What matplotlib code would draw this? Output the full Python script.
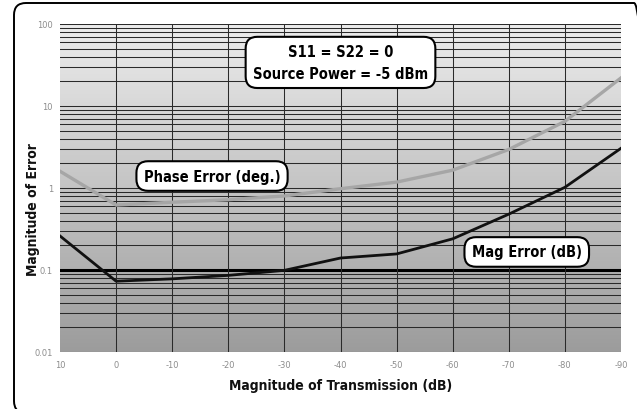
import numpy as np
import matplotlib
matplotlib.use('Agg')
import matplotlib.pyplot as plt
from matplotlib.patches import FancyBboxPatch
from matplotlib.transforms import IdentityTransform

# transmission magnitude (dB) and the two error curves
trans_db = [10, 0, -10, -20, -30, -40, -50, -60, -70, -80, -90]
phase_err = [1.6, 0.62, 0.67, 0.72, 0.8, 0.98, 1.18, 1.65, 2.95, 6.5, 22]
mag_err = [0.26, 0.073, 0.078, 0.086, 0.099, 0.14, 0.157, 0.24, 0.48, 1.02, 3.05]
x_ticks = [10, 0, -10, -20, -30, -40, -50, -60, -70, -80, -90]
y_ticks = [0.01, 0.1, 1, 10, 100]
y_ticklabels = ['0.01', '0.1', '1', '10', '100']

label_font = dict(family='DejaVu Sans', fontweight='bold', fontstretch='condensed')

fig = plt.figure(figsize=(6.37, 4.10), dpi=100)
ax = fig.add_axes([60/637, 57/410, 561/637, 328/410])

ax.set_yscale('log')
ax.set_xlim(10, -90)
ax.set_ylim(0.01, 100)

# gray gradient behind the grid, light at top, dark at bottom
grad = np.linspace(0, 1, 256).reshape(-1, 1)
ax.imshow(grad, extent=[0, 1, 0, 1], transform=ax.transAxes, aspect='auto',
          cmap=matplotlib.colors.LinearSegmentedColormap.from_list('bg', ['#9c9c9c', '#ececec']),
          origin='lower', zorder=0)

# horizontal grid: every 1..9 step in each decade
for dec in [0.01, 0.1, 1, 10]:
    for k in range(1, 10):
        v = dec * k
        if v == 0.1:
            continue
        ax.axhline(v, color='#2a2a2a', lw=0.75, zorder=1)
ax.axhline(100, color='#2a2a2a', lw=0.75, zorder=1)
ax.axhline(0.1, color='#000000', lw=2.2, zorder=1)
for xv in x_ticks[1:-1]:
    ax.axvline(xv, color='#2a2a2a', lw=0.75, zorder=1)

ax.plot(trans_db, phase_err, color='#a6a6a6', lw=2.4, zorder=3)
ax.plot(trans_db, mag_err, color='#111111', lw=2.0, zorder=3)

ax.set_xticks(x_ticks)
ax.set_xticklabels([str(v) for v in x_ticks])
ax.set_yticks(y_ticks)
ax.set_yticklabels(y_ticklabels)
ax.yaxis.set_minor_locator(matplotlib.ticker.NullLocator())
ax.tick_params(axis='both', length=0, labelsize=6, labelcolor='#8c8c8c')
ax.tick_params(axis='x', pad=6)
ax.tick_params(axis='y', pad=5)
for s in ax.spines.values():
    s.set_visible(False)

fig.text(341/637, 1 - 386/410, 'Magnitude of Transmission (dB)', ha='center', va='center',
         fontsize=10, color='#111111', **label_font)
fig.text(33/637, 1 - 210/410, 'Magnitude of Error', ha='center', va='center', rotation=90,
         fontsize=10, color='#111111', **label_font)

box = dict(boxstyle='round,pad=0.5,rounding_size=0.8', fc='white', ec='black', lw=1.5)
ax.text(-40, 34, 'S11 = S22 = 0\nSource Power = -5 dBm', ha='center', va='center',
        fontsize=10.5, linespacing=1.55, bbox=box, zorder=5, **label_font)
ax.text(-17.1, 1.4, 'Phase Error (deg.)', ha='center', va='center',
        fontsize=10.5, bbox=box, zorder=5, **label_font)
ax.text(-73.2, 0.166, 'Mag Error (dB)', ha='center', va='center',
        fontsize=10.5, bbox=box, zorder=5, **label_font)

# rounded frame around the whole figure, in pixels; right and bottom run off the edge
frame = FancyBboxPatch((14, -4), 632, 410,
                       boxstyle='round,pad=0,rounding_size=12',
                       transform=IdentityTransform(), fc='none', ec='black', lw=1.4)
fig.patches.append(frame)

plt.savefig('out.png', dpi=100)
